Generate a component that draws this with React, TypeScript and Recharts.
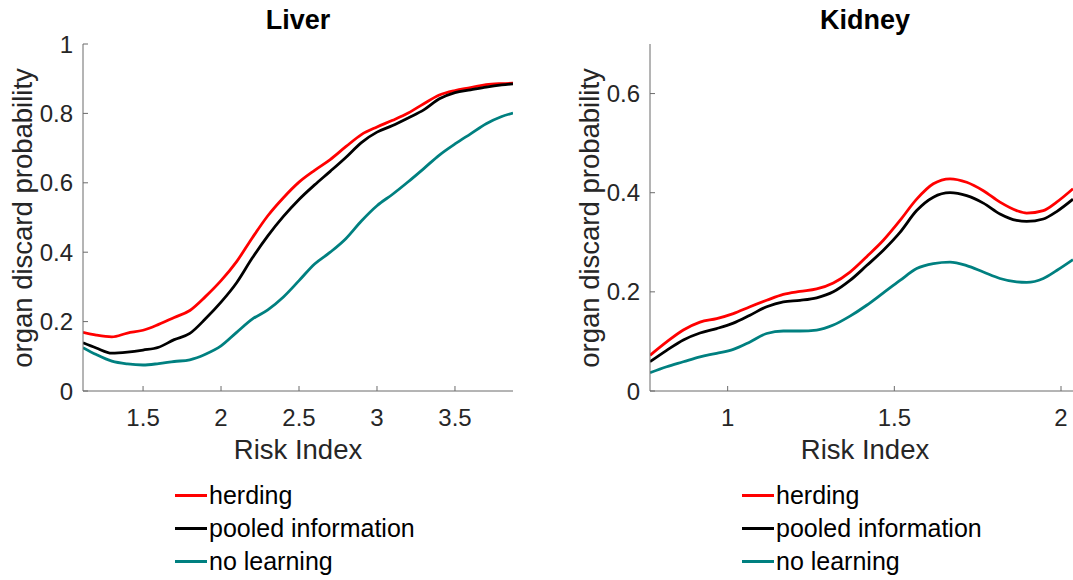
import { Line, LineChart, XAxis, YAxis } from 'recharts';

const liverRisk = [1.115, 1.2, 1.3, 1.4, 1.5, 1.6, 1.7, 1.8, 1.9, 2.0, 2.1, 2.2, 2.3, 2.4, 2.5, 2.6, 2.7, 2.8, 2.9, 3.0, 3.1, 3.2, 3.3, 3.4, 3.5, 3.6, 3.7, 3.8, 3.872];
const liverHerding = [0.169, 0.161, 0.156, 0.167, 0.175, 0.192, 0.212, 0.232, 0.272, 0.318, 0.373, 0.441, 0.505, 0.557, 0.602, 0.636, 0.667, 0.704, 0.739, 0.761, 0.78, 0.801, 0.828, 0.853, 0.866, 0.874, 0.883, 0.886, 0.887];
const liverPooled = [0.139, 0.124, 0.109, 0.112, 0.118, 0.126, 0.148, 0.166, 0.208, 0.256, 0.312, 0.383, 0.447, 0.503, 0.552, 0.594, 0.633, 0.673, 0.716, 0.746, 0.765, 0.787, 0.81, 0.842, 0.86, 0.868, 0.876, 0.882, 0.885];
const liverNoLearning = [0.125, 0.105, 0.086, 0.078, 0.075, 0.079, 0.085, 0.09, 0.106, 0.13, 0.169, 0.207, 0.234, 0.271, 0.318, 0.366, 0.4, 0.439, 0.49, 0.534, 0.567, 0.603, 0.641, 0.68, 0.712, 0.741, 0.77, 0.791, 0.801];

const kidneyRisk = [0.767, 0.817, 0.867, 0.917, 0.967, 1.017, 1.067, 1.117, 1.167, 1.217, 1.267, 1.317, 1.367, 1.417, 1.467, 1.517, 1.567, 1.617, 1.667, 1.717, 1.767, 1.817, 1.867, 1.897, 1.947, 1.987, 2.036];
const kidneyHerding = [0.072, 0.099, 0.123, 0.139, 0.146, 0.156, 0.17, 0.183, 0.195, 0.201, 0.206, 0.218, 0.24, 0.271, 0.304, 0.344, 0.387, 0.418, 0.428, 0.421, 0.404, 0.381, 0.364, 0.359, 0.364, 0.381, 0.408];
const kidneyPooled = [0.059, 0.082, 0.103, 0.117, 0.126, 0.137, 0.153, 0.17, 0.18, 0.183, 0.188, 0.2, 0.223, 0.253, 0.284, 0.32, 0.364, 0.391, 0.4, 0.394, 0.379, 0.357, 0.344, 0.342, 0.347, 0.362, 0.387];
const kidneyNoLearning = [0.037, 0.049, 0.059, 0.069, 0.076, 0.084, 0.099, 0.116, 0.121, 0.121, 0.123, 0.133, 0.151, 0.173, 0.198, 0.223, 0.247, 0.257, 0.26, 0.253, 0.24, 0.227, 0.22, 0.219, 0.227, 0.243, 0.265];

const liverXTicks = [1.5, 2, 2.5, 3, 3.5];
const liverYTicks = [0, 0.2, 0.4, 0.6, 0.8, 1];
const kidneyXTicks = [1, 1.5, 2];
const kidneyYTicks = [0, 0.2, 0.4, 0.6];

const seriesNames = ['herding', 'pooled information', 'no learning'];

const FONT = '"Liberation Sans", Arial, Helvetica, sans-serif';
const AXIS = '#6b6b6b';
const TEXT = '#262626';
const COLORS = ['#ff0000', '#000000', '#008080'];

const buildRows = (xs: number[], a: number[], b: number[], c: number[]) =>
  xs.map((x, i) => ({ x, herding: a[i], pooled: b[i], none: c[i] }));

function XTick({ x, y, payload }: any) {
  return (
    <g>
      <line x1={x} x2={x} y1={y} y2={y - 5} stroke={AXIS} strokeWidth={1} />
      <text x={x} y={y + 35} textAnchor="middle" fontSize={24} fill={TEXT} fontFamily={FONT}>
        {String(payload.value)}
      </text>
    </g>
  );
}

function YTick({ x, y, payload }: any) {
  return (
    <g>
      <line x1={x} x2={x + 5} y1={y} y2={y} stroke={AXIS} strokeWidth={1} />
      <text x={x - 10} y={y} textAnchor="end" dominantBaseline="central" fontSize={24} fill={TEXT} fontFamily={FONT}>
        {String(payload.value)}
      </text>
    </g>
  );
}

type PanelProps = {
  left: number;
  width: number;
  yAxisWidth: number;
  title: string;
  rows: any[];
  xDomain: [number, number];
  yDomain: [number, number];
  xTicks: number[];
  yTicks: number[];
};

const TOP = 44;
const BOTTOM = 391;
const PLOT_W = 430;
const H = 580;
const X_AXIS_H = 40;

function Panel({ left, width, yAxisWidth, title, rows, xDomain, yDomain, xTicks, yTicks }: PanelProps) {
  const plotLeft = left + yAxisWidth;
  const cx = plotLeft + PLOT_W / 2;
  return (
    <>
      <div style={{ position: 'absolute', left, top: 0 }}>
        <LineChart
          width={width}
          height={H}
          data={rows}
          margin={{ top: TOP, right: width - yAxisWidth - PLOT_W, bottom: H - BOTTOM - X_AXIS_H, left: 0 }}
        >
          <XAxis
            dataKey="x"
            type="number"
            domain={xDomain}
            allowDataOverflow
            ticks={xTicks}
            height={X_AXIS_H}
            tickSize={0}
            tickMargin={0}
            tickLine={false}
            axisLine={{ stroke: AXIS, strokeWidth: 1 }}
            tick={<XTick />}
            interval={0}
          />
          <YAxis
            type="number"
            domain={yDomain}
            allowDataOverflow
            ticks={yTicks}
            width={yAxisWidth}
            tickSize={0}
            tickMargin={0}
            tickLine={false}
            axisLine={{ stroke: AXIS, strokeWidth: 1 }}
            tick={<YTick />}
            interval={0}
          />
          <Line type="monotone" dataKey="herding" stroke={COLORS[0]} strokeWidth={2.8} dot={false} isAnimationActive={false} />
          <Line type="monotone" dataKey="pooled" stroke={COLORS[1]} strokeWidth={2.8} dot={false} isAnimationActive={false} />
          <Line type="monotone" dataKey="none" stroke={COLORS[2]} strokeWidth={2.8} dot={false} isAnimationActive={false} />
        </LineChart>
      </div>
      <div
        style={{
          position: 'absolute', left: cx - 150, width: 300, top: 4, textAlign: 'center',
          fontSize: 27, fontWeight: 'bold', color: '#000', fontFamily: FONT, lineHeight: '32px',
        }}
      >
        {title}
      </div>
      <div
        style={{
          position: 'absolute', left: cx - 150, width: 300, top: 434, textAlign: 'center',
          fontSize: 27.5, color: TEXT, fontFamily: FONT, lineHeight: '32px',
        }}
      >
        Risk Index
      </div>
      <div
        style={{
          position: 'absolute', left: plotLeft - 60 - 200, top: (TOP + BOTTOM) / 2 - 16, width: 400,
          textAlign: 'center', fontSize: 27.5, color: TEXT, fontFamily: FONT, lineHeight: '32px',
          transform: 'rotate(-90deg)', transformOrigin: '200px 16px',
        }}
      >
        organ discard probability
      </div>
      <div style={{ position: 'absolute', left: plotLeft + 92, top: 479, fontFamily: FONT }}>
        {seriesNames.map((name, i) => (
          <div key={name} style={{ display: 'flex', alignItems: 'center', height: 33 }}>
            <div style={{ width: 32, height: 2.5, background: COLORS[i], marginRight: 2 }} />
            <span style={{ fontSize: 25, color: '#000', lineHeight: '33px' }}>{name}</span>
          </div>
        ))}
      </div>
    </>
  );
}

export default function App() {
  const liverRows = buildRows(liverRisk, liverHerding, liverPooled, liverNoLearning);
  const kidneyRows = buildRows(kidneyRisk, kidneyHerding, kidneyPooled, kidneyNoLearning);
  return (
    <div
      style={{
        position: 'absolute', left: 0, top: 0, width: 1073, height: 580,
        overflow: 'hidden', background: '#fff',
      }}
    >
      <Panel
        left={0}
        width={540}
        yAxisWidth={83}
        title="Liver"
        rows={liverRows}
        xDomain={[1.115, 3.872]}
        yDomain={[0, 1]}
        xTicks={liverXTicks}
        yTicks={liverYTicks}
      />
      <Panel
        left={540}
        width={560}
        yAxisWidth={110}
        title="Kidney"
        rows={kidneyRows}
        xDomain={[0.767, 2.057]}
        yDomain={[0, 0.7]}
        xTicks={kidneyXTicks}
        yTicks={kidneyYTicks}
      />
    </div>
  );
}
